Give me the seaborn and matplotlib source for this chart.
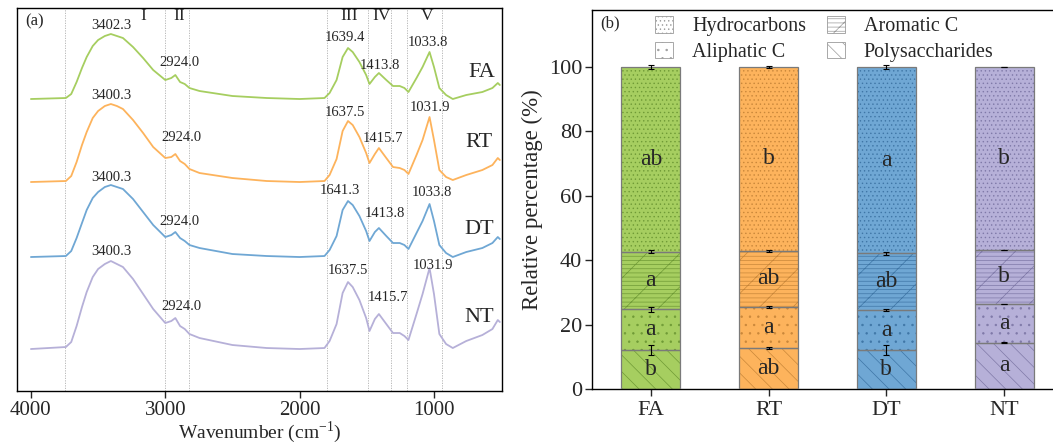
import matplotlib
matplotlib.use("Agg")
import matplotlib.pyplot as plt
from matplotlib.patches import Patch
import numpy as np
import pandas as pd
import seaborn as sns

# ---- data: FTIR spectra (a), stacked relative percentages (b) ----
wavenumber = [4000, 3740, 3700, 3660, 3620, 3585, 3540, 3500, 3450, 3405,
              3360, 3315, 3240, 3165, 3090, 3000, 2955, 2925, 2890, 2855,
              2820, 2745, 2500, 2245, 2000, 1815, 1777, 1725, 1680, 1640,
              1605, 1555, 1505, 1480, 1440, 1410, 1355, 1305, 1255, 1220,
              1190, 1130, 1085, 1033, 1000, 960, 910, 860, 760, 640,
              565, 525, 510]

fa_abs = [0, 1, 5, 17, 31, 42, 53, 59, 63, 65, 63, 61, 52, 41, 29, 19, 21, 24, 17, 15,
          11, 8, 3, 1, 0, 1, 6, 19, 42, 51, 47, 37, 24, 15, 22, 26, 19, 13, 13, 11,
          7, 21, 32, 47, 32, 11, 4, 0, 4, 7, 11, 16, 14]
rt_abs = [0, 1, 6, 20, 37, 50, 64, 71, 76, 78, 76, 73, 62, 49, 35, 24, 25, 28, 21, 18,
          13, 9, 4, 1, 0, 1, 7, 23, 51, 61, 57, 45, 29, 19, 28, 34, 24, 15, 14, 12,
          8, 27, 42, 65, 42, 12, 5, 2, 7, 12, 17, 24, 22]
dt_abs = [0, 1, 6, 19, 34, 47, 59, 65, 70, 72, 70, 68, 58, 45, 32, 20, 22, 25, 19, 16,
          12, 9, 3, 1, 0, 1, 7, 21, 47, 56, 52, 41, 26, 16, 25, 29, 21, 14, 14, 12,
          8, 24, 36, 53, 36, 12, 4, 0, 5, 9, 14, 20, 18]
nt_abs = [0, 2, 7, 23, 42, 57, 72, 80, 85, 88, 85, 82, 70, 55, 40, 26, 28, 31, 23, 20,
          15, 11, 4, 1, 0, 1, 8, 25, 56, 67, 62, 49, 31, 18, 30, 35, 25, 16, 16, 13,
          9, 35, 55, 81, 55, 15, 5, 1, 8, 14, 20, 29, 27]
spectra_offset = [292, 209, 134, 42]

treatments = ["FA", "RT", "DT", "NT"]
peak_labels = [["3402.3", "2924.0", "1639.4", "1413.8", "1033.8"],
               ["3400.3", "2924.0", "1637.5", "1415.7", "1031.9"],
               ["3400.3", "2924.0", "1641.3", "1413.8", "1033.8"],
               ["3400.3", "2924.0", "1637.5", "1415.7", "1031.9"]]
band_edges = [3750, 3000, 2820, 1800, 1490, 1320, 1200, 940]
band_names = ["I", "II", "III", "IV", "V"]

components = ["Hydrocarbons", "Aliphatic C", "Aromatic C", "Polysaccharides"]
polysaccharides = [12.1, 12.8, 12.1, 14.4]
aliphatic = [12.6, 12.7, 12.4, 12.0]
aromatic = [17.9, 17.4, 17.6, 16.8]
hydrocarbons = [57.4, 57.1, 57.9, 56.8]
poly_err = [1.6, 0.3, 1.5, 0.2]
aliph_err = [0.7, 0.2, 0.4, 0.1]
arom_err = [0.5, 0.2, 0.4, 0.1]
hydro_err = [0.5, 0.2, 0.7, 0.1]
poly_sig = ["b", "ab", "b", "a"]
aliph_sig = ["a", "a", "a", "a"]
arom_sig = ["a", "ab", "ab", "b"]
hydro_sig = ["ab", "b", "a", "b"]

# ---- style ----
sns.set_style("ticks")
plt.rcParams["font.family"] = ["Liberation Serif", "DejaVu Serif"]
plt.rcParams["mathtext.fontset"] = "stix"
plt.rcParams["hatch.linewidth"] = 0.5

fill_colors = ["#a6ce60", "#fdb35c", "#6fa7d4", "#b6b0d8"]
hatch_colors = ["#6f9a36", "#c9873a", "#3f76a6", "#7f79a8"]

fig = plt.figure(figsize=(10.53, 4.45), dpi=100)
ax1 = fig.add_axes([0.0161, 0.1213, 0.4606, 0.8607])
ax2 = fig.add_axes([0.5622, 0.1258, 0.4473, 0.8517])

# ---- (a) spectra ----
spec = pd.DataFrame({"wn": wavenumber})
for name, vals, off in zip(treatments, [fa_abs, rt_abs, dt_abs, nt_abs], spectra_offset):
    spec[name] = np.array(vals) + off
long = spec.melt(id_vars="wn", var_name="sample", value_name="abs")
sns.lineplot(data=long, x="wn", y="abs", hue="sample", palette=fill_colors,
             estimator=None, linewidth=1.3, legend=False, ax=ax1)

for e in band_edges:
    ax1.axvline(e, color="#b0b0b0", lw=0.6, ls=(0, (1.5, 1.5)), zorder=0)

label_xy = [[(3400, 366), (2892, 329), (1665, 354), (1405, 326), (1048, 349)],
            [(3400, 296), (2877, 254), (1665, 279), (1383, 253), (1033, 284)],
            [(3400, 214), (2892, 170), (1703, 201), (1368, 178), (1019, 199)],
            [(3400, 140), (2877, 85), (1643, 121), (1346, 94), (1011, 126)]]
name_xy = [(647, 319), (662, 249), (662, 162), (662, 74)]
for i in range(4):
    for txt, (x, y) in zip(peak_labels[i], label_xy[i]):
        ax1.text(x, y, txt, ha="center", va="center", fontsize=10.5)
    ax1.text(name_xy[i][0], name_xy[i][1], treatments[i], ha="center", va="center", fontsize=16)

for txt, x in zip(band_names, [3167, 2900, 1628, 1390, 1048]):
    ax1.text(x, 375, txt, ha="center", va="center", fontsize=12.5)

ax1.text(0.018, 0.985, "(a)", transform=ax1.transAxes, ha="left", va="top", fontsize=12)
ax1.set_xlim(4104, 494)
ax1.set_ylim(0, 383)
ax1.set_xticks([4000, 3000, 2000, 1000])
ax1.set_yticks([])
ax1.tick_params(axis="x", labelsize=15, length=5, width=1, direction="out", pad=2)
ax1.set_xlabel("Wavenumber (cm$^{\\mathregular{-1}}$)", fontsize=14, labelpad=0)
ax1.set_ylabel("")
for s in ax1.spines.values():
    s.set_linewidth(1.0)
    s.set_color("black")

# ---- (b) stacked bars ----
x = np.arange(len(treatments))
segments = [(polysaccharides, poly_err, poly_sig, "\\\\"),
            (aliphatic, aliph_err, aliph_sig, ".."),
            (aromatic, arom_err, arom_sig, "----/"),
            (hydrocarbons, hydro_err, hydro_sig, "....")]
bottom = np.zeros(4)
for vals, err, sig, hatch in segments:
    vals = np.array(vals)
    for i in range(4):
        ax2.bar(x[i], vals[i], bottom=bottom[i], width=0.5, color=fill_colors[i],
                edgecolor=hatch_colors[i], hatch=hatch, linewidth=0, zorder=2)
    ax2.bar(x, vals, bottom=bottom, width=0.5, fill=False, edgecolor="#7a7a7a",
            linewidth=0.9, zorder=3)
    top = bottom + vals
    ax2.errorbar(x, top, yerr=err, fmt="none", ecolor="black", elinewidth=0.8,
                 capsize=2.5, capthick=0.8, zorder=4)
    for i in range(4):
        ax2.text(x[i], bottom[i] + vals[i] / 2, sig[i], ha="center", va="center",
                 fontsize=17, zorder=5)
    bottom = top

handles = [Patch(facecolor="white", edgecolor="#9a9a9a", hatch=h, linewidth=0.6)
           for h in ["....", "..", "----/", "\\\\"]]
ax2.legend(handles, components, ncol=2, loc="upper left", bbox_to_anchor=(0.117, 1.005),
           borderaxespad=0, frameon=False, fontsize=14.5, handlelength=0.9,
           handleheight=0.9, handletextpad=0.95, columnspacing=1.0, labelspacing=0.25)

ax2.text(0.018, 0.985, "(b)", transform=ax2.transAxes, ha="left", va="top", fontsize=12)
ax2.set_xlim(-0.5, 3.5)
ax2.set_ylim(0, 117.7)
ax2.set_xticks(x)
ax2.set_xticklabels(treatments)
ax2.set_yticks([0, 20, 40, 60, 80, 100])
ax2.tick_params(axis="x", labelsize=16, length=5, width=1)
ax2.tick_params(axis="y", labelsize=16, length=5, width=1, pad=2)
ax2.set_ylabel("Relative percentage (%)", fontsize=16.5, labelpad=4)
for s in ax2.spines.values():
    s.set_linewidth(1.0)
    s.set_color("black")

fig.savefig("out.png", dpi=100)
